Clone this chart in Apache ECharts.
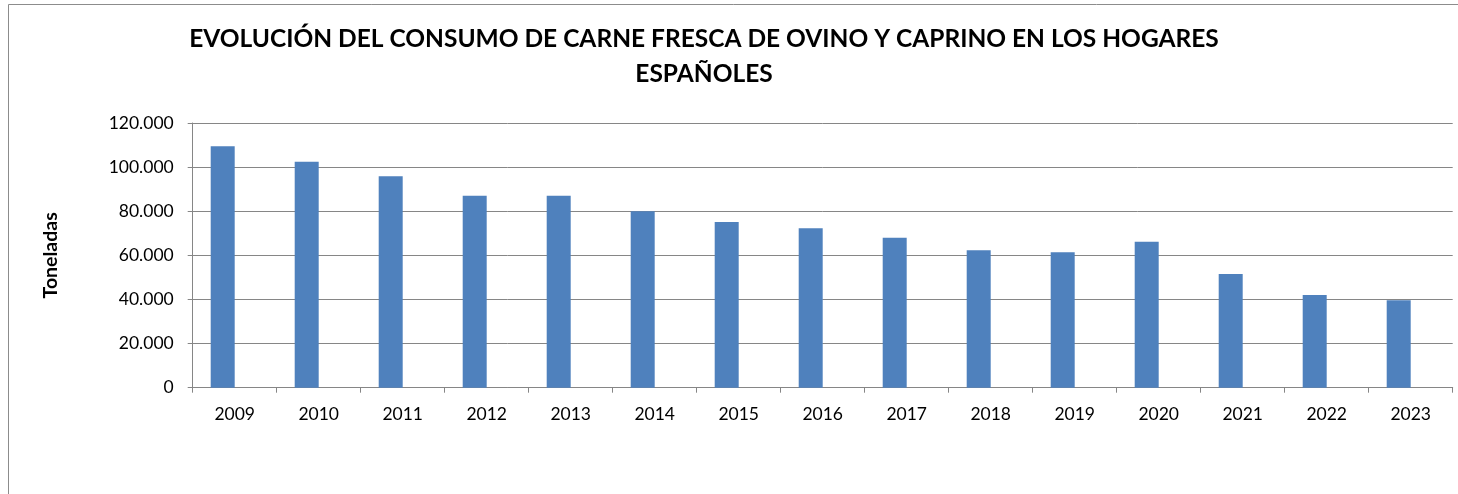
<!DOCTYPE html>
<html>
<head>
<meta charset="utf-8">
<script src="https://cdn.jsdelivr.net/npm/echarts@6/dist/echarts.min.js"></script>
<style>
  html, body { margin: 0; padding: 0; background: #fff; }
  #chart { width: 1458px; height: 494px; }
</style>
</head>
<body>
<div id="chart"></div>
<script>
// Consumo de carne fresca de ovino y caprino en hogares (toneladas)
const years = ['2009', '2010', '2011', '2012', '2013', '2014', '2015', '2016',
               '2017', '2018', '2019', '2020', '2021', '2022', '2023'];
const toneladas = [109500, 102400, 95900, 87000, 87000, 80000, 75100, 72300,
                   68000, 62300, 61400, 66200, 51600, 42000, 39600];
// Serie vacía que reserva el segundo hueco de cada categoría
const reserva = years.map(() => null);
const yTicks = [0, 20000, 40000, 60000, 80000, 100000, 120000];

const titleLines = ['EVOLUCIÓN DEL CONSUMO DE CARNE FRESCA DE OVINO Y CAPRINO EN LOS HOGARES', 'ESPAÑOLES'];

function fmtMiles(v) {
  return String(v).replace(/\B(?=(\d{3})+(?!\d))/g, '.');
}

const chart = echarts.init(document.getElementById('chart'), null, { renderer: 'canvas' });
const axisGray = '#868686';
const font = 'Lato, "Open Sans", sans-serif';

chart.setOption({
  animation: false,
  backgroundColor: '#fff',
  graphic: [{
    type: 'rect',
    shape: { x: 8.5, y: 4.5, width: 1470, height: 520 },
    style: { fill: 'none', stroke: '#8c8c8c', lineWidth: 1 },
    z: -1
  }],
  title: {
    text: titleLines.join('\n'),
    left: 699,
    textAlign: 'center',
    top: 17,
    textStyle: {
      fontFamily: font,
      fontWeight: 'bold',
      fontSize: 24.5,
      lineHeight: 35,
      color: '#000'
    }
  },
  grid: { left: 192.7, right: 5.3, top: 123, bottom: 106.3, containLabel: false },
  xAxis: {
    type: 'category',
    data: years,
    axisLine: { lineStyle: { color: axisGray, width: 1 } },
    axisTick: { show: true, length: 5, alignWithLabel: false, lineStyle: { color: axisGray } },
    axisLabel: { color: '#000', fontFamily: font, fontSize: 17.5, margin: 18 },
    splitLine: { show: false }
  },
  yAxis: {
    type: 'value',
    min: yTicks[0],
    max: yTicks[yTicks.length - 1],
    interval: yTicks[1] - yTicks[0],
    name: 'Toneladas',
    nameLocation: 'middle',
    nameRotate: 90,
    nameGap: 132,
    nameTextStyle: { fontFamily: font, fontWeight: 'bold', fontSize: 19.5, color: '#000' },
    axisLine: { show: true, lineStyle: { color: axisGray, width: 1 } },
    axisTick: { show: true, length: 5, lineStyle: { color: axisGray } },
    axisLabel: {
      color: '#000', fontFamily: font, fontSize: 17.5, margin: 19,
      formatter: fmtMiles
    },
    splitLine: { show: true, lineStyle: { color: axisGray, width: 1 } }
  },
  series: [
    {
      name: 'Toneladas',
      type: 'bar',
      data: toneladas,
      barWidth: 24,
      barGap: '0%',
      itemStyle: { color: '#4F81BD' }
    },
    {
      name: 'reserva',
      type: 'bar',
      data: reserva,
      barWidth: 24,
      itemStyle: { color: '#C0504D' }
    }
  ]
});
</script>
</body>
</html>
